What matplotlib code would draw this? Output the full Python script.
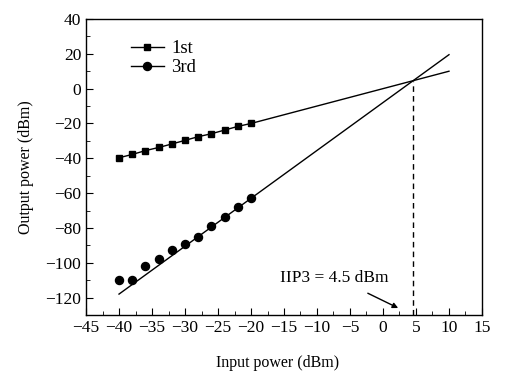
import matplotlib.pyplot as plt
from matplotlib.ticker import MultipleLocator

plt.rcParams['font.family'] = ['Liberation Serif', 'DejaVu Serif']
plt.rcParams['font.size'] = 12.5

# measured points
pin = [-40, -38, -36, -34, -32, -30, -28, -26, -24, -22, -20]
first = [-39.7, -37.8, -35.6, -33.8, -31.8, -29.7, -27.6, -25.9, -23.8, -21.7, -20]
third = [-110, -110, -102, -98, -92.5, -89, -85, -79, -73.5, -68, -63]

# extrapolated lines
fit1_x = [-20, 10]
fit1_y = [-20, 10]
fit3_x = [-40, 10]
fit3_y = [-118, 19.5]

iip3 = 4.5

fig = plt.figure(figsize=(5.3, 3.79), dpi=100)
ax = fig.add_axes([0.1623, 0.1689, 0.7471, 0.781])

ax.plot(pin, first, color='black', marker='s', markersize=5, linewidth=1)
ax.plot(pin, third, color='black', marker='o', markersize=5.8, linestyle='none')
ax.plot(fit1_x, fit1_y, color='black', linewidth=1)
ax.plot(fit3_x, fit3_y, color='black', linewidth=1)
ax.plot([iip3, iip3], [-130, iip3], color='black', linewidth=1, linestyle=(0, (4, 3)))

# legend handles show line + marker
h1, = ax.plot([], [], color='black', marker='s', markersize=5, linewidth=1)
h3, = ax.plot([], [], color='black', marker='o', markersize=5.8, linewidth=1)
ax.legend([h1, h3], ['1st', '3rd'], loc='upper left', frameon=False,
          bbox_to_anchor=(0.07, 0.985), handlelength=1.8, handletextpad=0.35,
          labelspacing=0.1, fontsize=13.5)

ax.text(-15.6, -108.6, 'IIP3 = 4.5 dBm', va='center', ha='left', fontsize=12.5)
ax.annotate('', xy=(2.3, -126), xytext=(-2.3, -117.5),
            arrowprops=dict(arrowstyle='-|>', color='black', lw=1,
                            shrinkA=0, shrinkB=0, mutation_scale=8))

ax.set_xlim(-45, 15)
ax.set_ylim(-130, 40)
ax.xaxis.set_major_locator(MultipleLocator(5))
ax.xaxis.set_minor_locator(MultipleLocator(2.5))
ax.yaxis.set_major_locator(MultipleLocator(20))
ax.yaxis.set_minor_locator(MultipleLocator(10))
ax.tick_params(which='both', direction='in', labelsize=12.5)
ax.tick_params(which='major', length=5)
ax.tick_params(which='minor', length=3)
for s in ax.spines.values():
    s.set_linewidth(1)

ax.set_xlabel('Input power (dBm)', fontsize=11.5, labelpad=16)
ax.xaxis.set_label_coords(0.485, -0.135)
ax.set_ylabel('Output power (dBm)', fontsize=11.5, labelpad=8)

fig.savefig('out.png', dpi=100)
